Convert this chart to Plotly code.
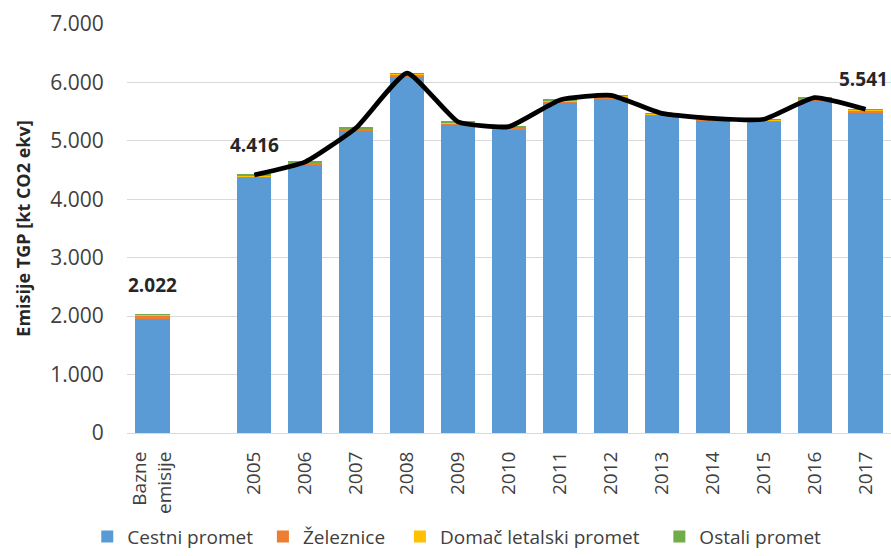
import plotly.graph_objects as go

categories = ["Bazne<br>emisije", "", "2005", "2006", "2007", "2008", "2009", "2010",
              "2011", "2012", "2013", "2014", "2015", "2016", "2017"]
cestni = [1955, None, 4363, 4587, 5170, 6098, 5268, 5197, 5650, 5732, 5419, 5341, 5325, 5692, 5493]
zeleznice = [62, None, 35, 35, 35, 35, 35, 30, 30, 30, 35, 30, 30, 30, 30]
letalski = [3, None, 10, 10, 12, 12, 10, 8, 8, 8, 7, 6, 7, 8, 8]
ostali = [2, None, 8, 8, 8, 15, 12, 10, 12, 10, 9, 8, 8, 10, 10]
line_years = ["2005", "2006", "2007", "2008", "2009", "2010", "2011", "2012",
              "2013", "2014", "2015", "2016", "2017"]
line_totals = [4416, 4640, 5225, 6160, 5325, 5245, 5700, 5780, 5470, 5385, 5370, 5740, 5541]
label_points = [("Bazne<br>emisije", 2022, "2.022"), ("2005", 4416, "4.416"), ("2017", 5541, "5.541")]
series_names = ["Cestni promet", "Železnice", "Domač letalski promet", "Ostali promet"]
series_colors = ["#5B9BD5", "#ED7D31", "#FFC000", "#70AD47"]
series_values = [cestni, zeleznice, letalski, ostali]
legend_pad = [1, 2, 3, 0]

pos = {c: i for i, c in enumerate(categories)}
xpos = [pos[c] for c in categories]

FONT = "Open Sans"
fig = go.Figure()
for name, vals, col, pad in zip(series_names, series_values, series_colors, legend_pad):
    fig.add_trace(go.Bar(x=xpos, y=vals, name=name + "\u00a0" * pad, marker_color=col,
                         marker_line_width=0))

fig.add_trace(go.Scatter(x=[pos[y] for y in line_years], y=line_totals, mode="lines",
                         line=dict(color="black", width=4.8, shape="spline", smoothing=0.45),
                         showlegend=False, hoverinfo="skip"))

for i, (cat, val, txt) in enumerate(label_points):
    last = i == len(label_points) - 1
    fig.add_annotation(x=pos[cat], y=val, text="<b>" + txt + "</b>", showarrow=False,
                       yshift=30, xshift=-2 if last else 0,
                       font=dict(family=FONT, size=19, color="#262626"))

fig.update_layout(
    width=891, height=556,
    margin=dict(l=126.5, r=0, t=24, b=123),
    barmode="stack", bargap=0.33,
    separators=",.",
    paper_bgcolor="white", plot_bgcolor="white",
    font=dict(family=FONT, size=19, color="#404040"),
    legend=dict(orientation="h", x=-0.052, xanchor="left", y=-0.3, yanchor="bottom",
                font=dict(family=FONT, size=19, color="#404040"),
                traceorder="normal"),
    xaxis=dict(range=[-0.5, len(categories) - 0.5], tickmode="array",
               tickvals=xpos, ticktext=categories, automargin=False,
               tickangle=-90, showline=True, linecolor="#D9D9D9", linewidth=1,
               showgrid=False, zeroline=False, tickfont=dict(size=19),
               ticks="outside", ticklen=10, tickcolor="rgba(0,0,0,0)"),
    yaxis=dict(range=[0, 7000], dtick=1000, tickformat=",d", showgrid=True,
               gridcolor="#D9D9D9", gridwidth=1, zeroline=False, showline=False,
               automargin=False, tickfont=dict(size=21),
               ticks="outside", ticklen=18, tickcolor="rgba(0,0,0,0)",
               title=dict(text="<b>Emisije TGP [kt CO2 ekv]</b>", standoff=14,
                          font=dict(family=FONT, size=18, color="#262626"))),
)

fig.write_html("out.html", config={"displayModeBar": False},
               post_script="document.body.style.margin='0';")
